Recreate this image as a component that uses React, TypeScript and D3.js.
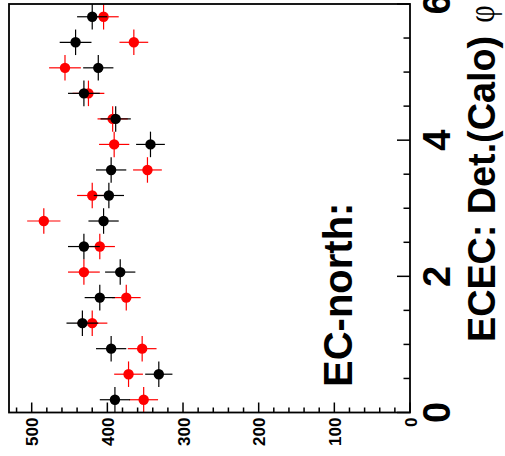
import React from "react";
import * as d3 from "d3";

const phiCenters = [0.1875, 0.5625, 0.9375, 1.3125, 1.6875, 2.0625, 2.4375, 2.8125, 3.1875, 3.5625, 3.9375, 4.3125, 4.6875, 5.0625, 5.4375, 5.8125];
const phiHalfWidth = 0.1875;
const blackValues = [390, 332, 395, 433, 410, 383, 431, 405, 398, 395, 343, 389, 431, 412, 442, 420];
const blackErrors = [20, 18, 20, 21, 20, 20, 21, 20, 20, 20, 19, 20, 21, 20, 21, 20];
const redValues = [352, 372, 354, 420, 375, 431, 410, 484, 420, 347, 391, 393, 425, 456, 365, 405];
const redErrors = [19, 19, 19, 20, 19, 21, 20, 22, 20, 19, 20, 20, 21, 21, 19, 20];
const valueMajorTicks = [0, 100, 200, 300, 400, 500];
const phiMajorTicks = [0, 2, 4, 6];

const W = 505;
const H = 456;
const FONT = "'Liberation Sans', Arial, Helvetica, sans-serif";

export default function App() {
  const frame = { left: 9, right: 410, top: 4, bottom: 412.5 };
  const vScale = d3.scaleLinear().domain([0, 530]).range([frame.right, frame.left]);
  const pScale = d3.scaleLinear().domain([0, 6]).range([frame.bottom, frame.top]);

  const valueMinor = d3.range(0, 530, 20).filter((v) => v % 100 !== 0);
  const phiMinor = d3.range(0, 6.01, 0.5).filter((p) => Math.abs(p % 2) > 1e-6);

  const series = [
    { values: redValues, errors: redErrors, color: "#ff0000" },
    { values: blackValues, errors: blackErrors, color: "#000000" },
  ];

  return (
    <svg
      width={W}
      height={H}
      style={{ position: "absolute", left: 0, top: 0, background: "#fff" }}
    >
      <rect x={0} y={0} width={W} height={H} fill="#fff" />
      {series.map((s, si) => (
        <g key={si}>
          {s.values.map((v, i) => {
            const cx = vScale(v);
            const cy = pScale(phiCenters[i]);
            const x1 = vScale(v + s.errors[i]);
            const x2 = vScale(v - s.errors[i]);
            const y1 = pScale(phiCenters[i] + phiHalfWidth);
            const y2 = pScale(phiCenters[i] - phiHalfWidth);
            return (
              <g key={i}>
                <line x1={x1} x2={x2} y1={cy} y2={cy} stroke={s.color} strokeWidth={1.2} />
                <line x1={cx} x2={cx} y1={y1} y2={y2} stroke={s.color} strokeWidth={1.2} />
                <circle cx={cx} cy={cy} r={5.2} fill={s.color} />
              </g>
            );
          })}
        </g>
      ))}
      <rect
        x={frame.left}
        y={frame.top}
        width={frame.right - frame.left}
        height={frame.bottom - frame.top}
        fill="none"
        stroke="#000"
        strokeWidth={1.8}
      />
      {valueMajorTicks.map((t) => (
        <line key={"vM" + t} x1={vScale(t)} x2={vScale(t)} y1={frame.bottom} y2={frame.bottom - 10} stroke="#000" strokeWidth={1.5} />
      ))}
      {valueMinor.map((t) => (
        <line key={"vm" + t} x1={vScale(t)} x2={vScale(t)} y1={frame.bottom} y2={frame.bottom - 5} stroke="#000" strokeWidth={1.5} />
      ))}
      {valueMajorTicks.map((t) => (
        <text
          key={"vl" + t}
          transform={`translate(${vScale(t) + 6.5},${frame.bottom + 5}) rotate(-90)`}
          textAnchor="end"
          fontFamily={FONT}
          fontWeight="bold"
          fontSize={17}
        >
          {String(t)}
        </text>
      ))}
      {phiMajorTicks.map((t) => (
        <line key={"pM" + t} x1={frame.right} x2={frame.right - 13} y1={pScale(t)} y2={pScale(t)} stroke="#000" strokeWidth={1.5} />
      ))}
      {phiMinor.map((t) => (
        <line key={"pm" + t} x1={frame.right} x2={frame.right - 6.5} y1={pScale(t)} y2={pScale(t)} stroke="#000" strokeWidth={1.5} />
      ))}
      {phiMajorTicks.map((t) => (
        <text
          key={"pl" + t}
          transform={`translate(450,${pScale(t)}) rotate(-90)`}
          textAnchor="middle"
          fontFamily={FONT}
          fontWeight="bold"
          fontSize={38}
        >
          {String(t)}
        </text>
      ))}
      <text
        transform={`translate(495,342) rotate(-90)`}
        textAnchor="start"
        fontFamily={FONT}
        fontWeight="bold"
        fontSize={38}
        textLength={306}
        lengthAdjust="spacingAndGlyphs"
      >
        ECEC: Det.(Calo)
      </text>
      <text
        transform={`translate(494,14) rotate(-90) scale(0.8,1)`}
        textAnchor="middle"
        fontFamily="'Liberation Serif', 'DejaVu Serif', serif"
        fontSize={38}
      >
        φ
      </text>
      <text
        transform={`translate(352,387) rotate(-90)`}
        textAnchor="start"
        fontFamily={FONT}
        fontWeight="bold"
        fontSize={40}
      >
        EC-north:
      </text>
    </svg>
  );
}
